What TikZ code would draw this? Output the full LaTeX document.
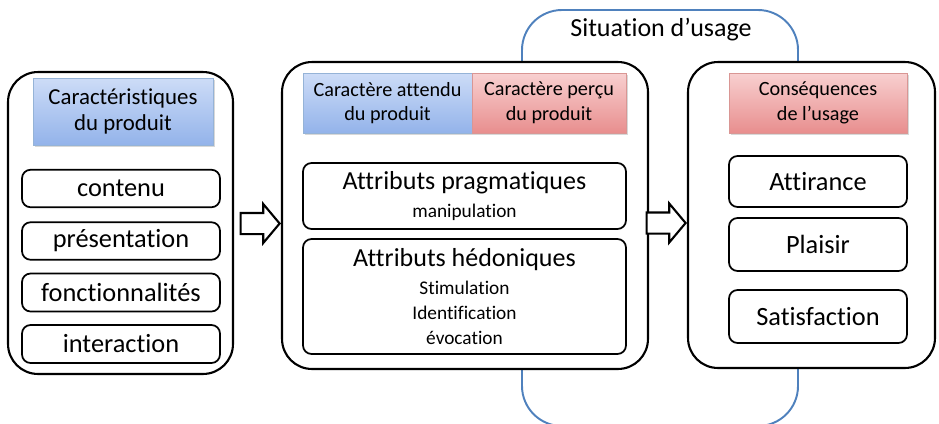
\documentclass[tikz,border=0pt]{standalone}
\usepackage{fontspec}
\setmainfont{Carlito}[RawFeature={-liga;-clig;-dlig}]
\usetikzlibrary{positioning,shapes,shadows,arrows,fit,backgrounds}
\definecolor{usageblue}{RGB}{79,129,189}
\definecolor{bluetop}{RGB}{205,220,247}
\definecolor{bluebot}{RGB}{147,179,234}
\definecolor{blueedge}{RGB}{149,179,215}
\definecolor{redtop}{RGB}{248,208,208}
\definecolor{redbot}{RGB}{232,142,142}
\definecolor{rededge}{RGB}{217,150,148}

\begin{document}
\begin{tikzpicture}[x=0.02cm, y=-0.02cm,
  outerbox/.style={draw=black, line width=1.2pt, rounded corners=0.6cm, fill=white},
  itembox/.style={draw=black, line width=1pt, rounded corners=0.17cm, fill=white, align=center, inner sep=0pt, font=\fontsize{15}{18}\selectfont},
  headbox/.style={align=center, inner sep=0pt, font=\fontsize{11.5}{14}\selectfont, drop shadow={shadow xshift=1.2pt, shadow yshift=-1.2pt, opacity=0.3}},
  headblue/.style={headbox, draw=blueedge, top color=bluetop, bottom color=bluebot},
  headred/.style={headbox, draw=rededge, top color=redtop, bottom color=redbot},
  bigarrow/.style={single arrow, draw=black, line width=1.2pt, fill=white, inner xsep=0pt, inner ysep=0.19cm, single arrow head extend=0.18cm, single arrow tip angle=100, minimum height=0.78cm}]
  \useasboundingbox (0,0) rectangle (939,423);
  \begin{scope}
    \clip (0,0) rectangle (939,423);
    \draw[usageblue, line width=1.1pt, rounded corners=0.8cm] (522,10) rectangle (798,426);
  \end{scope}
  \node[font=\fontsize{14.8}{17}\selectfont, inner sep=0pt] at (661,30) (situ) {Situation d’usage};

  \node[outerbox, minimum width=4.5cm, minimum height=6.04cm] at (120.5,223) (prod) {};
  \node[headblue, minimum width=3.6cm, minimum height=1.34cm, font=\fontsize{13}{15}\selectfont] at (123,111.5) (carac) {Caractéristiques\\du produit};
  \node[itembox, minimum width=3.96cm, minimum height=0.75cm] at (121,188.5) (contenu) {contenu};
  \node[itembox, minimum width=3.96cm, minimum height=0.75cm] at (121,241) (presentation) {présentation};
  \node[itembox, minimum width=3.96cm, minimum height=0.76cm] at (121,292.5) (fonctions) {fonctionnalités};
  \node[itembox, minimum width=3.96cm, minimum height=0.76cm] at (121,344) (interaction) {interaction};

  \node[outerbox, minimum width=7.32cm, minimum height=6.14cm] at (465,215.5) (usage) {};
  \node[headblue, minimum width=3.38cm, minimum height=1.2cm] at (387.5,103) (attendu) {Caractère attendu\\du produit};
  \node[headred, minimum width=3.08cm, minimum height=1.2cm] at (549,103) (percu) {Caractère perçu\\du produit};
  \node[itembox, minimum width=6.46cm, minimum height=1.32cm, font=\fontsize{11}{14}\selectfont] at (464.5,196) (prag) {{\fontsize{14.8}{17}\selectfont Attributs pragmatiques}\\[1.5pt]manipulation};
  \node[itembox, minimum width=6.46cm, minimum height=2.3cm, font=\fontsize{11}{14}\selectfont] at (464.5,296.5) (hedo) {{\fontsize{14.8}{17}\selectfont Attributs hédoniques}\\[2pt]Stimulation\\Identification\\évocation};

  \node[outerbox, minimum width=4.94cm, minimum height=6.12cm] at (811.5,215) (csq) {};
  \node[headred, minimum width=3.56cm, minimum height=1.2cm] at (818,103) (csqhead) {Conséquences\\de l’usage};
  \node[itembox, minimum width=3.56cm, minimum height=1.02cm] at (818,181.5) (attirance) {Attirance};
  \node[itembox, minimum width=3.56cm, minimum height=1.06cm] at (818,244.5) (plaisir) {Plaisir};
  \node[itembox, minimum width=3.56cm, minimum height=1.06cm] at (818,316.5) (satisf) {Satisfaction};

  \node[bigarrow, anchor=tip] at ([yshift=-0.16cm]usage.west) (flecheA) {};
  \node[bigarrow, anchor=tip] at ([yshift=-0.16cm]csq.west) (flecheB) {};
\end{tikzpicture}
\end{document}
